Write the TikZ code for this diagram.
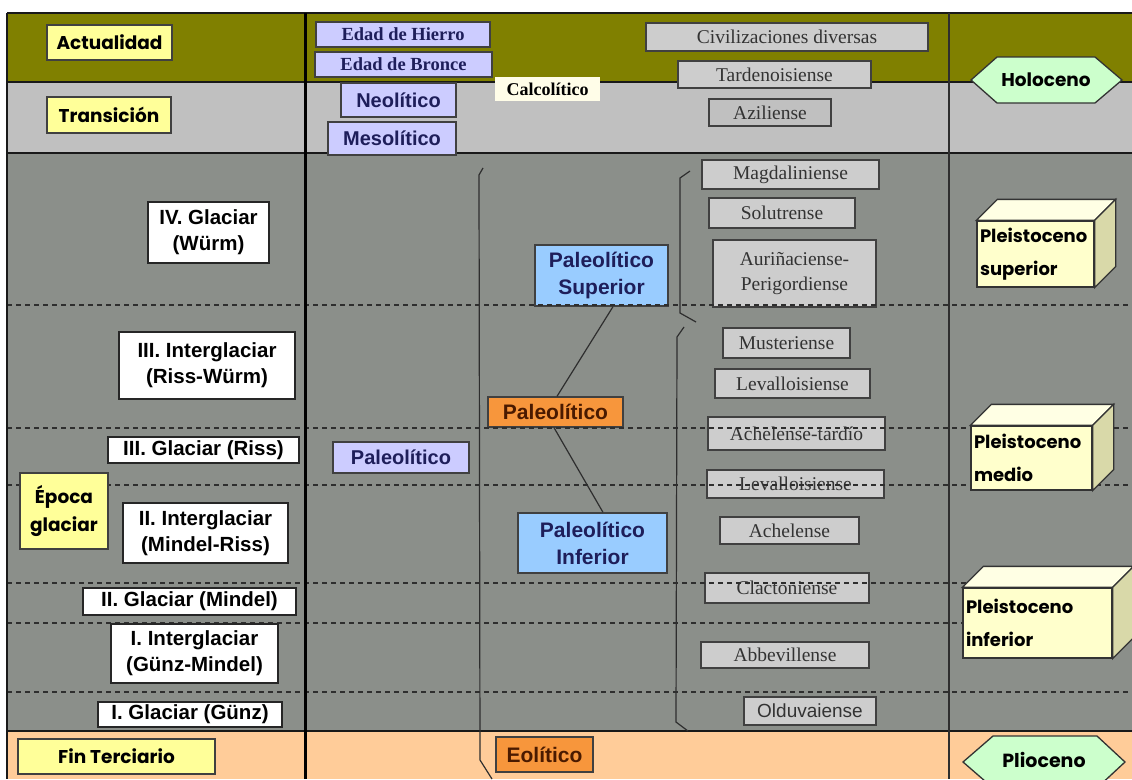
\documentclass[tikz,border=0pt]{standalone}
\usepackage{fontspec}
\setmainfont{Liberation Serif}
\setsansfont{Liberation Sans}
\newfontfamily\comicf{Poppins}
\usetikzlibrary{calc}
\definecolor{bandolive}{HTML}{808000}
\definecolor{bandgray}{HTML}{C0C0C0}
\definecolor{bandmain}{HTML}{8B8F8A}
\definecolor{bandpeach}{HTML}{FFCC99}
\definecolor{yel}{HTML}{FFFF99}
\definecolor{lav}{HTML}{CCCCFF}
\definecolor{navyt}{HTML}{1E1E5A}
\definecolor{gboxc}{HTML}{CDCDCD}
\definecolor{gtext}{HTML}{333333}
\definecolor{pblue}{HTML}{99CCFF}
\definecolor{porange}{HTML}{F7963C}
\definecolor{brownt}{HTML}{4A1A00}
\definecolor{hexg}{HTML}{CCFFCC}
\definecolor{cubefront}{HTML}{FFFFCC}
\definecolor{cubetop}{HTML}{FFFFE4}
\definecolor{cubeside}{HTML}{D9D9A9}
\definecolor{cream}{HTML}{FFFDE8}
\definecolor{lineg}{HTML}{2E2E2E}
\tikzset{
  wbox/.style={draw=black!85, line width=1.3, fill=white, inner sep=0, align=center,
    font=\sffamily\bfseries\fontsize{20.5}{26}\selectfont},
  ybox/.style={draw=black!75, line width=1.5, fill=yel, inner sep=0, align=center,
    font=\comicf\bfseries\fontsize{18.5}{28}\selectfont},
  lbox/.style={draw=black!75, line width=1.3, fill=lav, inner sep=0, text=navyt, align=center,
    font=\sffamily\bfseries\fontsize{20}{26}\selectfont},
  lsbox/.style={lbox, font=\rmfamily\bfseries\fontsize{18.5}{22}\selectfont},
  gsbox/.style={draw=black!75, line width=1.3, fill=gboxc, inner sep=0, text=gtext, align=center,
    font=\rmfamily\fontsize{19.5}{25}\selectfont},
  bbox/.style={draw=black!75, line width=1.3, fill=pblue, inner sep=0, text=navyt, align=center,
    font=\sffamily\bfseries\fontsize{21}{27}\selectfont},
  obox/.style={draw=black!75, line width=1.3, fill=porange, inner sep=0, text=brownt, align=center,
    font=\sffamily\bfseries\fontsize{21}{27}\selectfont},
  cubebox/.style={draw=black!80, line width=1.3, fill=cubefront, inner xsep=3, inner ysep=0, align=left,
    font=\comicf\bfseries\fontsize{18}{33}\selectfont},
  hexbox/.style={draw=black!80, line width=1.3, fill=hexg},
  dashline/.style={draw=lineg, line width=1.4, dash pattern=on 5pt off 4pt},
  frameline/.style={draw=black!90, line width=2.5},
  thinline/.style={draw=lineg, line width=1.2},
}
\begin{document}
\begin{tikzpicture}[x=1pt,y=-1pt]
\useasboundingbox (0,0) rectangle (1132,779);
\clip (0,0) rectangle (1132,779);
\fill[white] (0,0) rectangle (1132,779);
% bands
\fill[bandolive] (7,13) rectangle (1132,82);
\fill[bandgray] (7,82) rectangle (1132,153);
\fill[bandmain] (7,153) rectangle (1132,731);
\fill[bandpeach] (7,731) rectangle (1132,779);
% dashed lines
\foreach \yy in {305,428,485,583,623,692} \draw[dashline] (7,\yy) -- (1132,\yy);
% frame lines
\draw[frameline] (7,13) -- (1132,13);
\draw[frameline] (7,13) -- (7,779);
\draw[frameline] (7,82) -- (1132,82);
\draw[frameline] (7,153) -- (1132,153);
\draw[frameline] (7,731) -- (1132,731);
\draw[draw=black, line width=3] (305,13) -- (305,779);
\draw[draw=lineg, line width=1.6] (949,13) -- (949,779);
% brackets
\draw[thinline] (483,168) -- (479,175) -- (480,760) -- (492,779);
\draw[thinline] (690,171) -- (680,178) -- (680,313) -- (696,322);
\draw[thinline] (684,327) -- (677,337) -- (676,722) -- (688,731);

% left column
\node[ybox, minimum width=125, minimum height=35] (actual) at (109.5,42.5) {Actualidad};
\node[ybox, minimum width=124, minimum height=36] (trans) at (109,115) {Transición};
\node[wbox, minimum width=121, minimum height=61] (g4) at (208.5,232.5) {IV. Glaciar\\(Würm)};
\node[wbox, minimum width=176, minimum height=67] (ig3) at (207,365.5) {III. Interglaciar\\(Riss-Würm)};
\node[wbox, minimum width=191, minimum height=26] (g3) at (203.5,450) {III. Glaciar (Riss)};
\node[ybox, minimum width=88, minimum height=76] (epoca) at (64,511) {Época\\glaciar};
\node[wbox, minimum width=165, minimum height=60] (ig2) at (205.5,533) {II. Interglaciar\\(Mindel-Riss)};
\node[wbox, minimum width=213, minimum height=27] (g2) at (189.5,601.5) {II. Glaciar (Mindel)};
\node[wbox, minimum width=167, minimum height=59] (ig1) at (194.5,653.5) {I. Interglaciar\\(Günz-Mindel)};
\node[wbox, minimum width=184, minimum height=25] (g1) at (190,714.5) {I. Glaciar (Günz)};
\node[ybox, minimum width=197, minimum height=35] (fin) at (116.5,756.5) {Fin Terciario};

% middle column top
\node[lsbox, minimum width=174, minimum height=25] (hierro) at (403,34.5) {Edad de Hierro};
\node[lsbox, minimum width=177, minimum height=25] (bronce) at (403.5,64.5) {Edad de Bronce};
\node[lbox, minimum width=115, minimum height=34] (neo) at (398.5,100) {Neolítico};
\node[lbox, minimum width=128, minimum height=33] (meso) at (392,138.5) {Mesolítico};
\node[fill=cream, inner sep=0, minimum width=105, minimum height=24,
  font=\rmfamily\bfseries\fontsize{18}{22}\selectfont] (calco) at (547.5,89) {Calcolítico};
\node[gsbox, minimum width=282, minimum height=28] (civ) at (787,37) {Civilizaciones diversas};
\node[gsbox, minimum width=193, minimum height=27] (tarde) at (774.5,74.5) {Tardenoisiense};
\node[gsbox, fill=bandgray, minimum width=122, minimum height=27] (azil) at (770,112.5) {Aziliense};

% middle column main
\node[gsbox, minimum width=177, minimum height=29] (magd) at (790.5,174.5) {Magdaliniense};
\node[gsbox, minimum width=146, minimum height=30] (solu) at (782,213) {Solutrense};
\node[gsbox, minimum width=163, minimum height=67] (auri) at (794.5,273.5) {Auriñaciense-\\Perigordiense};
\node[gsbox, minimum width=127, minimum height=30] (must) at (786.5,343) {Musteriense};
\node[gsbox, minimum width=155, minimum height=29] (leva1) at (792.5,383.5) {Levalloisiense};
\node[gsbox, minimum width=177, minimum height=33] (achelt) at (796.5,433.5) {Achelense-tardío};
\node[gsbox, minimum width=177, minimum height=28] (leva2) at (795.5,484) {Levalloisiense};
\node[gsbox, minimum width=139, minimum height=27] (achel) at (789.5,530.5) {Achelense};
\node[gsbox, minimum width=164, minimum height=30] (clac) at (787,588) {Clactoniense};
\node[gsbox, minimum width=168, minimum height=26] (abbe) at (785,655) {Abbevillense};
\node[gsbox, minimum width=132, minimum height=28, font=\sffamily\fontsize{19}{24}\selectfont] (oldu) at (810,711) {Olduvaiense};

\node[lbox, minimum width=136, minimum height=31] (paleo) at (401,457.5) {Paleolítico};
\node[bbox, minimum width=133, minimum height=61] (psup) at (601.5,275.5) {Paleolítico\\Superior};
\node[obox, minimum width=135, minimum height=30] (pmid) at (555.5,412) {Paleolítico};
\node[bbox, minimum width=149, minimum height=60] (pinf) at (592.5,543) {Paleolítico\\Inferior};
\node[obox, minimum width=97, minimum height=35] (eol) at (544.5,754.5) {Eolítico};

% connectors
\draw[thinline] ($(psup.south)+(11.5,0)$) -- ($(pmid.north)+(1.5,0)$);
\draw[thinline] ($(pmid.south)+(-1.5,0)$) -- ($(pinf.north)+(10.5,0)$);

% dashed lines over the middle column boxes
\begin{scope}
\clip (307,0) rectangle (947,779);
\foreach \yy in {305,428,485,583,623,692} \draw[dashline] (7,\yy) -- (1132,\yy);
\end{scope}

% right column
\filldraw[hexbox] (971,80) -- (997,57) -- (1095,57) -- (1122,80) -- (1095,103) -- (997,103) -- cycle;
\node[font=\comicf\bfseries\fontsize{18.5}{22}\selectfont] (holo) at (1046,80) {Holoceno};
\filldraw[hexbox] (963,762) -- (993,736) -- (1097,736) -- (1125,762) -- (1097,788) -- (993,788) -- cycle;
\node[font=\comicf\bfseries\fontsize{19}{22}\selectfont] (plio) at (1044,760) {Plioceno};

\node[cubebox, text width=111, minimum height=66] (c1) at (1035.5,254) {Pleistoceno\\superior};
\node[cubebox, text width=115, minimum height=64] (c2) at (1031.5,458) {Pleistoceno\\medio};
\node[cubebox, text width=143, minimum height=70] (c3) at (1037.5,623) {Pleistoceno\\inferior};
\foreach \c in {c1,c2,c3} {
  \filldraw[fill=cubetop, draw=black!80, line width=1.3] (\c.north west) -- ++(21,-21) -- ($(\c.north east)+(21,-21)$) -- (\c.north east) -- cycle;
  \filldraw[fill=cubeside, draw=black!80, line width=1.3] (\c.north east) -- ++(21,-21) -- ($(\c.south east)+(21,-21)$) -- (\c.south east) -- cycle;
}
\end{tikzpicture}
\end{document}
